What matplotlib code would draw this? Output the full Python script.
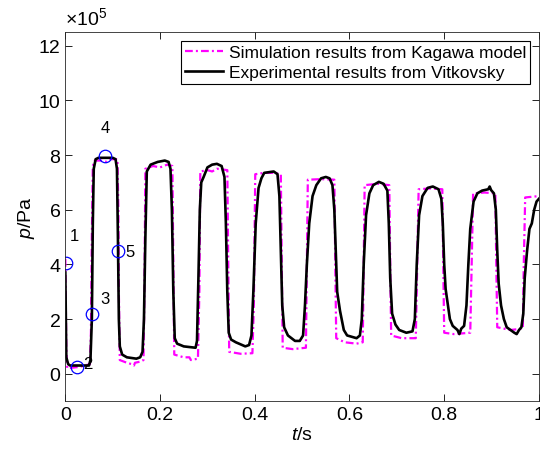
import numpy as np
import matplotlib.pyplot as plt
from matplotlib.ticker import FuncFormatter

plt.rcParams['font.family'] = ['Liberation Sans', 'DejaVu Sans']
plt.rcParams['mathtext.fontset'] = 'custom'
plt.rcParams['mathtext.rm'] = 'Liberation Sans'
plt.rcParams['mathtext.it'] = 'Liberation Sans:italic'

# experimental (Vitkovsky), t in s, p in 1e5 Pa
t_exp = [0.000, 0.002, 0.006, 0.010, 0.050, 0.053, 0.056, 0.058, 0.060, 0.064, 0.070, 0.100,
         0.106, 0.109, 0.111, 0.113, 0.115, 0.120, 0.130, 0.150, 0.158, 0.163, 0.166, 0.169,
         0.172, 0.180, 0.195, 0.210, 0.218, 0.222, 0.225, 0.228, 0.231, 0.236, 0.250, 0.275,
         0.278, 0.281, 0.284, 0.287, 0.292, 0.300, 0.310, 0.320, 0.330, 0.336, 0.339, 0.342,
         0.345, 0.350, 0.360, 0.380, 0.388, 0.393, 0.397, 0.402, 0.408, 0.414, 0.420, 0.440,
         0.448, 0.452, 0.455, 0.458, 0.462, 0.470, 0.485, 0.495, 0.502, 0.506, 0.510, 0.515,
         0.522, 0.530, 0.540, 0.550, 0.558, 0.564, 0.568, 0.571, 0.574, 0.580, 0.588, 0.595,
         0.615, 0.622, 0.626, 0.630, 0.635, 0.642, 0.650, 0.662, 0.672, 0.680, 0.683, 0.686,
         0.690, 0.697, 0.705, 0.720, 0.733, 0.738, 0.742, 0.747, 0.754, 0.765, 0.776, 0.788,
         0.794, 0.797, 0.800, 0.803, 0.808, 0.812, 0.818, 0.828, 0.832, 0.836, 0.842, 0.847,
         0.851, 0.855, 0.862, 0.870, 0.880, 0.893, 0.896, 0.899, 0.905, 0.909, 0.912, 0.915,
         0.920, 0.926, 0.932, 0.940, 0.948, 0.953, 0.958, 0.963, 0.967, 0.970, 0.975, 0.980,
         0.985, 0.990, 0.995, 1.000]
p_exp = [3.7, 0.6, 0.35, 0.3, 0.3, 0.5, 2.0, 5.5, 7.5, 7.85, 7.9, 7.9,
         7.85, 7.5, 5.0, 2.0, 1.0, 0.7, 0.6, 0.55, 0.6, 0.8, 2.0, 5.0,
         7.4, 7.65, 7.75, 7.8, 7.75, 7.5, 6.0, 3.0, 1.3, 1.1, 1.0, 0.95,
         1.2, 3.5, 6.0, 7.0, 7.2, 7.55, 7.65, 7.68, 7.6, 7.2, 5.5, 3.0,
         1.5, 1.25, 1.15, 1.0, 1.05, 1.4, 3.0, 5.5, 6.8, 7.15, 7.35, 7.4,
         7.3, 6.5, 4.5, 2.5, 1.7, 1.4, 1.2, 1.2, 1.4, 2.5, 4.0, 5.5,
         6.5, 6.9, 7.15, 7.2, 7.15, 6.9, 6.0, 4.5, 3.0, 2.3, 1.6, 1.4,
         1.3, 1.4, 2.0, 4.0, 5.8, 6.6, 6.9, 7.02, 6.95, 6.7, 5.5, 3.5,
         2.2, 1.8, 1.6, 1.5, 1.55, 2.0, 4.0, 5.8, 6.5, 6.8, 6.85, 6.75,
         6.4, 5.5, 4.0, 3.1, 2.5, 2.0, 1.75, 1.6, 1.45, 1.65, 1.75, 2.5,
         4.0, 5.3, 6.3, 6.6, 6.7, 6.75, 6.85, 6.72, 6.6, 6.0, 4.5, 3.3,
         2.5, 2.0, 1.7, 1.6, 1.5, 1.45, 1.6, 1.7, 2.2, 3.5, 4.5, 5.3,
         5.5, 6.0, 6.3, 6.4]

# simulation (Kagawa model)
t_sim = [0.000, 0.002, 0.004, 0.030, 0.052, 0.054, 0.056, 0.058, 0.062, 0.075, 0.085, 0.095,
         0.110, 0.112, 0.113, 0.115, 0.130, 0.140, 0.145, 0.147, 0.160, 0.165, 0.167, 0.169,
         0.185, 0.200, 0.215, 0.226, 0.228, 0.230, 0.250, 0.262, 0.265, 0.280, 0.283, 0.285,
         0.300, 0.310, 0.320, 0.342, 0.344, 0.346, 0.370, 0.395, 0.398, 0.401, 0.420, 0.440,
         0.455, 0.457, 0.459, 0.480, 0.508, 0.510, 0.512, 0.540, 0.568, 0.570, 0.572, 0.590,
         0.615, 0.628, 0.630, 0.632, 0.660, 0.684, 0.686, 0.688, 0.710, 0.740, 0.743, 0.746,
         0.770, 0.796, 0.798, 0.800, 0.820, 0.855, 0.858, 0.861, 0.885, 0.908, 0.910, 0.912,
         0.940, 0.966, 0.968, 0.971, 1.000]
p_sim = [4.2, 1.0, 0.2, 0.25, 0.35, 1.5, 5.0, 7.6, 7.8, 7.8, 7.75, 7.85,
         7.85, 6.0, 3.0, 0.5, 0.4, 0.35, 0.3, 0.4, 0.45, 0.5, 3.0, 7.5,
         7.6, 7.55, 7.65, 7.6, 4.0, 0.7, 0.6, 0.6, 0.5, 0.55, 3.0, 7.4,
         7.45, 7.4, 7.5, 7.45, 4.0, 0.8, 0.73, 0.75, 2.5, 7.3, 7.35, 7.35,
         7.3, 4.0, 0.95, 0.9, 0.95, 4.0, 7.1, 7.12, 7.1, 4.0, 1.3, 1.15,
         1.1, 1.15, 4.0, 6.9, 6.95, 6.9, 4.0, 1.4, 1.3, 1.3, 4.0, 6.75,
         6.78, 6.75, 4.0, 1.5, 1.45, 1.5, 4.0, 6.6, 6.63, 6.6, 4.0, 1.7,
         1.6, 1.65, 4.0, 6.45, 6.5]

# marked points 1-5
t_mark = [0.002, 0.025, 0.057, 0.0845, 0.112]
p_mark = [4.05, 0.25, 2.2, 7.95, 4.48]
mark_labels = ['1', '2', '3', '4', '5']
t_lab = [0.0195, 0.048, 0.083, 0.0845, 0.136]
p_lab = [5.05, 0.37, 2.77, 9.0, 4.48]

scale = 1e5

fig = plt.figure(figsize=(5.4, 4.6), dpi=100)
ax = fig.add_axes([0.121, 0.126, 0.877, 0.802])

ax.plot(t_sim, np.array(p_sim) * scale, color='#ff00ff', ls=(0, (3.5, 1.4, 0.9, 1.4)), lw=1.6,
        label='Simulation results from Kagawa model')
ax.plot(t_exp, np.array(p_exp) * scale, color='black', ls='-', lw=1.9,
        label='Experimental results from Vitkovsky')
ax.plot(t_mark, np.array(p_mark) * scale, 'o', ms=9, mfc='none', mec='blue', mew=0.9)
for tx, py, s in zip(t_lab, p_lab, mark_labels):
    ax.text(tx, py * scale, s, fontsize=12, ha='center', va='center')

ax.set_xlim(0, 1)
ax.set_ylim(-1e5, 12.5e5)
ax.set_xticks(np.arange(0, 1.01, 0.2))
ax.set_xticklabels(['0', '0.2', '0.4', '0.6', '0.8', '1'])
ax.set_yticks(np.arange(0, 12.1, 2) * scale)
ax.yaxis.set_major_formatter(FuncFormatter(lambda v, pos: '%g' % (v / scale)))
ax.text(0.0, 1.012, r'$\times10^{5}$', transform=ax.transAxes, fontsize=14,
        ha='left', va='bottom')

ax.tick_params(direction='in', top=True, right=True, labelsize=14, length=5, width=0.6)
for sp in ax.spines.values():
    sp.set_linewidth(0.6)
    sp.set_color('#262626')

ax.set_xlabel('$t$/s', fontsize=14, labelpad=2)
ax.set_ylabel('$p$/Pa', fontsize=14, labelpad=1)

leg = ax.legend(loc='upper right', fontsize=12.5, fancybox=False, framealpha=1,
                edgecolor='black', handlelength=2.2, borderpad=0.25, labelspacing=0.25,
                handletextpad=0.3, borderaxespad=0.5)
leg.get_frame().set_linewidth(0.8)

fig.savefig('out.png', dpi=100)
